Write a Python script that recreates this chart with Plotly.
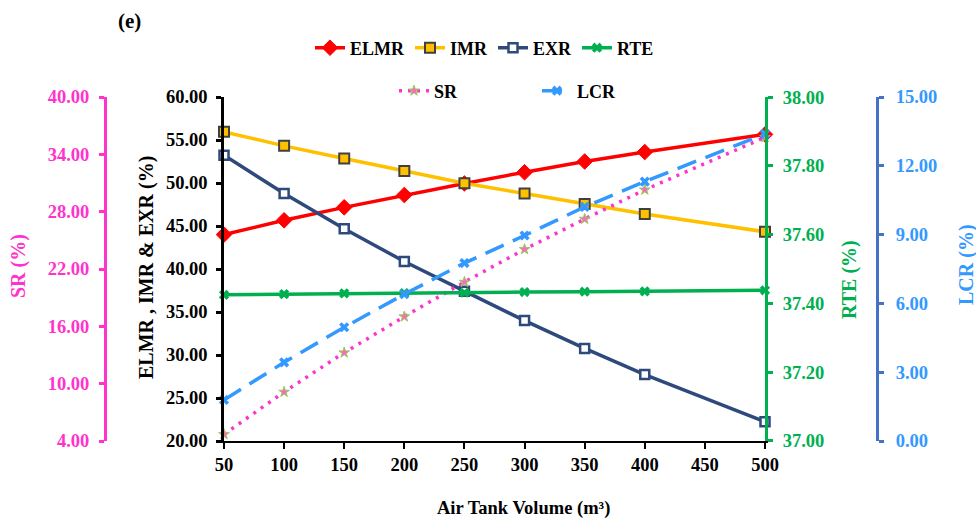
import plotly.graph_objects as go

# Air tank volume (m3)
volume = [50, 100, 150, 200, 250, 300, 350, 400, 500]

# Ratios on the main left axis (%)
elmr = [44.0, 45.66, 47.17, 48.6, 49.95, 51.25, 52.5, 53.6, 55.65]
imr = [55.95, 54.32, 52.85, 51.4, 49.97, 48.77, 47.56, 46.4, 44.33]
exr = [53.24, 48.77, 44.69, 40.87, 37.42, 34.0, 30.77, 27.73, 22.25]

# Round-trip efficiency (%) on the inner right axis
rte = [37.425, 37.427, 37.429, 37.430, 37.431, 37.433, 37.434, 37.435, 37.438]

# SR (%) on the outer left axis, LCR (%) on the outer right axis
sr = [4.7, 9.13, 13.25, 17.02, 20.64, 24.06, 27.23, 30.29, 35.78]
lcr = [1.79, 3.43, 4.96, 6.4, 7.76, 8.96, 10.21, 11.31, 13.39]

main_ticks = [20, 25, 30, 35, 40, 45, 50, 55, 60]
sr_ticks = [4, 10, 16, 22, 28, 34, 40]
rte_ticks = [37.0, 37.2, 37.4, 37.6, 37.8, 38.0]
lcr_ticks = [0, 3, 6, 9, 12, 15]
x_ticks = [50, 100, 150, 200, 250, 300, 350, 400, 450, 500]

W, H = 976, 522
PLOT_L, PLOT_R, PLOT_T, PLOT_B = 224, 765, 97, 441
FONT = "Liberation Serif"

PINK = "#FF33CC"
GREEN = "#00B050"
LBLUE = "#3399FF"
DBLUE = "#4472C4"
NAVY = "#2E4A7D"
GOLD = "#FFC000"
RED = "#FF0000"


def px_x(x):
    return x / W


def px_y(y):
    return (PLOT_B - y) / (PLOT_B - PLOT_T)


fig = go.Figure()

fig.add_trace(go.Scatter(
    x=volume, y=elmr, name="ELMR", mode="lines+markers", yaxis="y",
    line=dict(color=RED, width=3.5),
    marker=dict(symbol="diamond", size=12, color=RED, line=dict(color=RED, width=1)),
    cliponaxis=False, legend="legend"))
fig.add_trace(go.Scatter(
    x=volume, y=imr, name="IMR", mode="lines+markers", yaxis="y",
    line=dict(color=GOLD, width=3.5),
    marker=dict(symbol="square", size=10, color=GOLD, line=dict(color="#404040", width=2)),
    cliponaxis=False, legend="legend"))
fig.add_trace(go.Scatter(
    x=volume, y=exr, name="EXR", mode="lines+markers", yaxis="y",
    line=dict(color=NAVY, width=3.5),
    marker=dict(symbol="square", size=9, color="white", line=dict(color=NAVY, width=2.5)),
    cliponaxis=False, legend="legend"))
fig.add_trace(go.Scatter(
    x=volume, y=rte, name="RTE", mode="lines+markers", yaxis="y3",
    line=dict(color=GREEN, width=3.5),
    marker=dict(symbol="x", size=9, color=GREEN),
    cliponaxis=False, legend="legend"))
fig.add_trace(go.Scatter(
    x=volume, y=sr, name="SR", mode="lines+markers", yaxis="y2",
    line=dict(color=PINK, width=3.5, dash="3px,6px"),
    marker=dict(symbol="star", size=8, color="#FF66CC", line=dict(color="#92D050", width=1)),
    cliponaxis=False, legend="legend2"))
fig.add_trace(go.Scatter(
    x=volume, y=lcr, name="LCR", mode="lines+markers", yaxis="y4",
    line=dict(color=LBLUE, width=3.5, dash="20px,10px"),
    marker=dict(symbol="x", size=9, color=LBLUE),
    cliponaxis=False, legend="legend2"))

tick_font = dict(family=FONT, size=18.5, weight="bold")
legend_font = dict(family=FONT, size=18, color="black", weight="bold")

fig.update_layout(
    width=W, height=H,
    margin=dict(l=0, r=0, t=PLOT_T, b=H - PLOT_B, pad=0),
    paper_bgcolor="white", plot_bgcolor="white",
    font=dict(family=FONT, size=18, color="black", weight="bold"),
    xaxis=dict(
        domain=[px_x(PLOT_L), px_x(PLOT_R)], range=[50, 500], automargin=False,
        tickvals=x_ticks, showgrid=False, zeroline=False,
        showline=True, linecolor="black", linewidth=2,
        ticks="outside", ticklen=6, tickwidth=2, tickcolor="black",
        tickfont=dict(tick_font, color="black"),
    ),
    yaxis=dict(
        range=[20, 60], tickvals=main_ticks, tickformat=".2f", automargin=False,
        showgrid=False, zeroline=False,
        showline=True, linecolor="black", linewidth=2.5,
        ticks="outside", ticklen=5, tickwidth=2.5, tickcolor="black",
        tickfont=dict(tick_font, color="black"), ticklabelstandoff=5,
    ),
    yaxis2=dict(
        overlaying="y", side="left", anchor="free", position=px_x(105), automargin=False,
        range=[4, 40], tickvals=sr_ticks, tickformat=".2f",
        showgrid=False, zeroline=False,
        showline=True, linecolor=PINK, linewidth=3,
        ticks="outside", ticklen=5, tickwidth=3, tickcolor=PINK,
        tickfont=dict(tick_font, color=PINK), ticklabelstandoff=6,
    ),
    yaxis3=dict(
        overlaying="y", side="right", anchor="x", automargin=False,
        range=[36.9999, 38.0001], tickvals=rte_ticks, tickformat=".2f",
        showgrid=False, zeroline=False,
        showline=True, linecolor=GREEN, linewidth=3,
        ticks="outside", ticklen=5, tickwidth=3, tickcolor=GREEN,
        tickfont=dict(tick_font, color=GREEN), ticklabelstandoff=6,
    ),
    yaxis4=dict(
        overlaying="y", side="right", anchor="free", position=px_x(877), automargin=False,
        range=[0, 15], tickvals=lcr_ticks, tickformat=".2f",
        showgrid=False, zeroline=False,
        showline=True, linecolor=DBLUE, linewidth=3,
        ticks="outside", ticklen=5, tickwidth=3, tickcolor=DBLUE,
        tickfont=dict(tick_font, color=LBLUE), ticklabelstandoff=8,
    ),
    legend=dict(
        orientation="h", x=px_x(310), y=px_y(48), xanchor="left", yanchor="middle",
        bgcolor="rgba(0,0,0,0)", itemwidth=30, font=legend_font,
    ),
    legend2=dict(
        orientation="h", x=px_x(394), y=px_y(91), xanchor="left", yanchor="middle",
        bgcolor="rgba(0,0,0,0)", itemwidth=30,
        entrywidth=98, entrywidthmode="pixels", font=legend_font,
    ),
    showlegend=True,
)

annotations = [
    dict(text="(e)", x=px_x(129), y=px_y(21), font=dict(size=21, color="black")),
    dict(text="ELMR , IMR & EXR (%)", x=px_x(146), y=px_y(268), textangle=-90,
         font=dict(size=20, color="black")),
    dict(text="SR (%)", x=px_x(18), y=px_y(266), textangle=-90,
         font=dict(size=20, color=PINK)),
    dict(text="RTE (%)", x=px_x(849), y=px_y(280), textangle=-90,
         font=dict(size=20, color=GREEN)),
    dict(text="LCR (%)", x=px_x(966), y=px_y(265), textangle=-90,
         font=dict(size=20, color=LBLUE)),
    dict(text="Air Tank Volume (m³)", x=(436 + 610) / 2 / W, y=px_y(508),
         font=dict(size=18.5, color="black")),
]
for a in annotations:
    a.update(xref="paper", yref="paper", showarrow=False, xanchor="center", yanchor="middle")
    a["font"] = dict(family=FONT, weight="bold", **a["font"])
fig.update_layout(annotations=annotations)

fig.write_html("out.html")
